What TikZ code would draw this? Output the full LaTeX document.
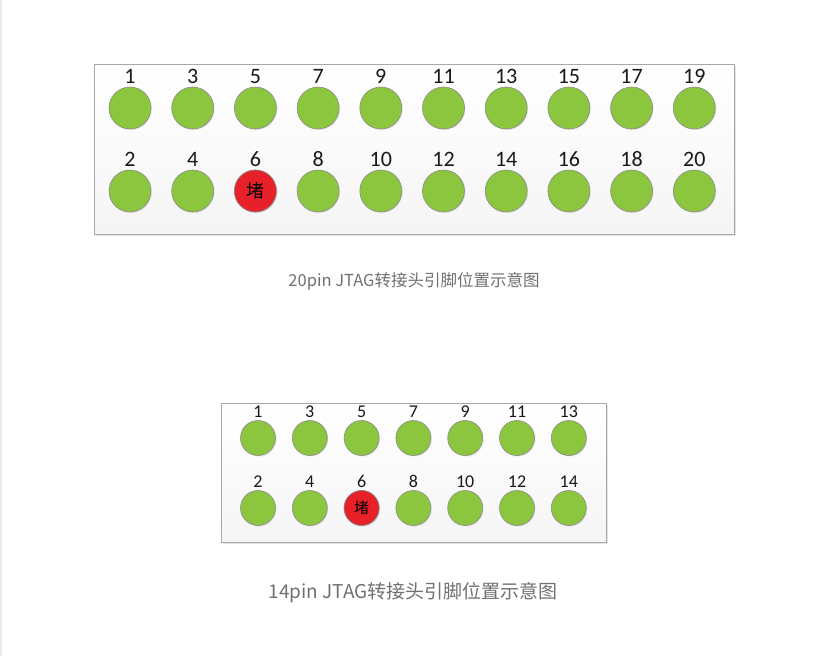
\documentclass[tikz,border=0pt]{standalone}
\usepackage{fontspec}
\setmainfont{Carlito}
\newfontfamily\cjk{Noto Sans CJK SC}
\usetikzlibrary{shadows,positioning}
\definecolor{pingreen}{HTML}{8CC63F}
\definecolor{pinred}{HTML}{E8202A}
\definecolor{pinedge}{HTML}{8A8A8A}
\definecolor{boxedge}{HTML}{A8A8A8}
\definecolor{captiongray}{HTML}{707070}

\begin{document}
\begin{tikzpicture}[x=1pt,y=-1pt]
    \tikzstyle{header}=[draw=boxedge,line width=1pt,top color=white,bottom color=black!4,
        drop shadow={shadow xshift=2pt,shadow yshift=-2pt,fill=black!22}]
    \tikzstyle{pin}=[circle,draw=pinedge,line width=0.6pt,fill=pingreen,inner sep=0pt,
        drop shadow={shadow xshift=1pt,shadow yshift=-1pt,fill=black!18}]
    \tikzstyle{big pin}=[pin,minimum size=42pt]
    \tikzstyle{small pin}=[pin,minimum size=35pt]
    \tikzstyle{blocked}=[fill=pinred]
    \tikzstyle{number}=[inner sep=0pt,text=black!90]
    \tikzstyle{caption}=[text=captiongray,inner sep=0pt]

    \useasboundingbox (0,0) rectangle (826,656);
    \fill[black!9] (0,0) rectangle (2,656);

    % 20 pin header
    \node[header,minimum width=640pt,minimum height=170pt,inner sep=0pt] (H-20) at (414,149) {};
    \foreach \i in {0,...,9} {
        \pgfmathtruncatemacro{\odd}{2*\i+1}
        \pgfmathtruncatemacro{\even}{2*\i+2}
        \node[big pin] (P20-\odd) at (130+62.7*\i,108) {};
        \node[big pin] (P20-\even) at (130+62.7*\i,191) {};
        \node[number,font=\fontsize{22}{22}\selectfont,anchor=base] at ([yshift=3pt]P20-\odd.north) {\odd};
        \node[number,font=\fontsize{22}{22}\selectfont,anchor=base] at ([yshift=3pt]P20-\even.north) {\even};
    }
    \node[big pin,blocked,font=\cjk\fontsize{18}{18}\selectfont] at (P20-6) {堵};
    \node[caption,font=\cjk\fontsize{16.5}{16.5}\selectfont] (C-20) at (414,281) {20pin JTAG转接头引脚位置示意图};

    % 14 pin header
    \node[header,minimum width=385pt,minimum height=139pt,inner sep=0pt] (H-14) at (413.5,472.5) {};
    \foreach \i in {0,...,6} {
        \pgfmathtruncatemacro{\odd}{2*\i+1}
        \pgfmathtruncatemacro{\even}{2*\i+2}
        \node[small pin] (P14-\odd) at (258+51.8*\i,438) {};
        \node[small pin] (P14-\even) at (258+51.8*\i,508) {};
        \node[number,font=\fontsize{18}{18}\selectfont,anchor=base] at ([yshift=3pt]P14-\odd.north) {\odd};
        \node[number,font=\fontsize{18}{18}\selectfont,anchor=base] at ([yshift=3pt]P14-\even.north) {\even};
    }
    \node[small pin,blocked,font=\cjk\fontsize{15}{15}\selectfont] at (P14-6) {堵};
    \node[caption,font=\cjk\fontsize{19}{19}\selectfont] (C-14) at (413,593) {14pin JTAG转接头引脚位置示意图};
\end{tikzpicture}
\end{document}
